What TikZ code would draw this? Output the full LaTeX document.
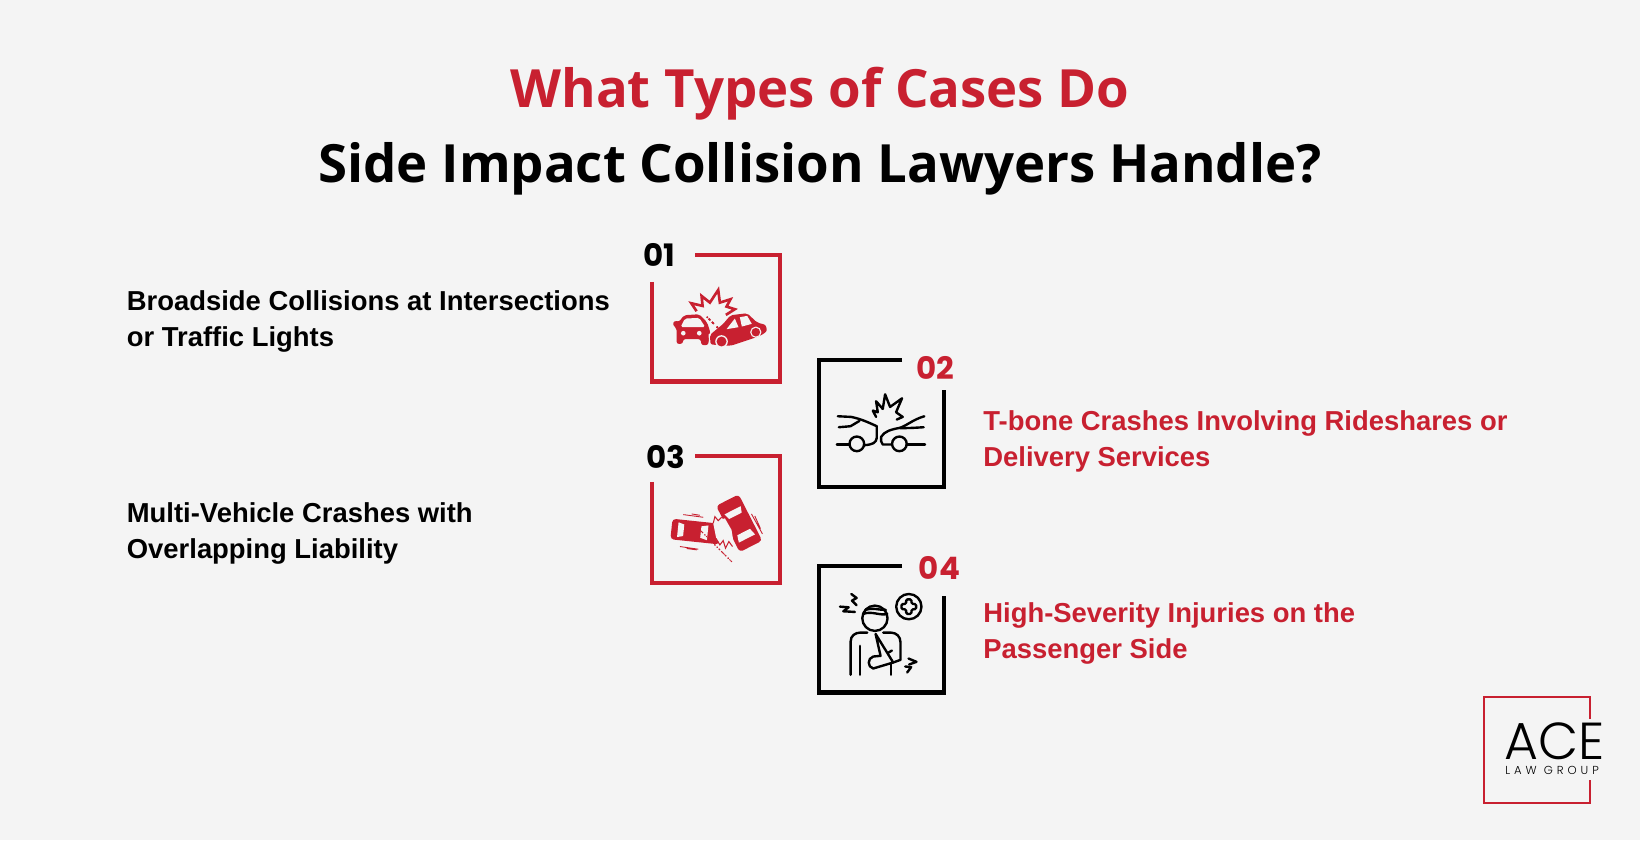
\documentclass[tikz,border=0pt]{standalone}
\usepackage{fontspec}
\setmainfont{Open Sans}
\newfontfamily\bodyfont{Liberation Sans}
\newfontfamily\numfont{Poppins}
\newfontfamily\acefont{Poppins Light}
\newfontfamily\acetrack[LetterSpace=34]{Poppins Light}
\usepackage{xcolor}
\usetikzlibrary{positioning}
\definecolor{aceRed}{RGB}{200,32,48}
\definecolor{pageGray}{RGB}{244,244,244}

\begin{document}
\begin{tikzpicture}[thick, line join=miter]

	% Define styles
	\tikzstyle{heading} = [inner sep=0pt, font=\fontsize{15}{19}\selectfont\bfseries]
	\tikzstyle{itemtext} = [inner sep=0pt, anchor=base west, align=left, font=\fontsize{7.8}{10.4}\selectfont\bodyfont\bfseries]
	\tikzstyle{numlabel} = [inner sep=0pt, anchor=base west, font=\fontsize{8.8}{10}\selectfont\numfont\bfseries]
	\tikzstyle{frame} = [line width=1.34pt]
	\tikzstyle{iconline} = [line width=0.68pt, line cap=round, line join=round]

	% Page
	\fill[pageGray] (0,0) rectangle (16.4,8.4);

	% Title
	\node[heading, anchor=base, text=aceRed] (titleA) at (8.2,7.32) {What Types of Cases Do};
	\node[heading, below=0.75cm of titleA.base, anchor=base] (titleB) {Side Impact Collision Lawyers Handle?};

	% Item texts
	\node[itemtext] (textA) at (1.255,4.93) {Broadside Collisions at Intersections\\or Traffic Lights};
	\node[itemtext, text=aceRed] (textB) at (9.82,3.73) {T-bone Crashes Involving Rideshares or\\Delivery Services};
	\node[itemtext] (textC) at (1.255,2.81) {Multi-Vehicle Crashes with\\Overlapping Liability};
	\node[itemtext, text=aceRed] (textD) at (9.82,1.81) {High-Severity Injuries on the\\Passenger Side};

	% Numbers
	\node[numlabel] (numA) at (6.42,5.73) {01};
	\node[numlabel, text=aceRed] (numB) at (9.15,4.60) {02};
	\node[numlabel] (numC) at (6.45,3.71) {03};
	\node[numlabel, text=aceRed] (numD) at (9.175,2.60) {04};

	% Frames
	\draw[frame, aceRed] (6.52,5.58) -- (6.52,4.585) -- (7.80,4.585) -- (7.80,5.85) -- (6.95,5.85);
	\draw[frame, aceRed] (6.52,3.58) -- (6.52,2.57) -- (7.80,2.57) -- (7.80,3.84) -- (6.95,3.84);
	\draw[frame] (9.02,4.80) -- (8.19,4.80) -- (8.19,3.53) -- (9.44,3.53) -- (9.44,4.50);
	\draw[frame] (9.02,2.74) -- (8.19,2.74) -- (8.19,1.475) -- (9.44,1.475) -- (9.44,2.44);

	% Icon 01: two cars hitting
	\begin{scope}[shift={(6.6,5.7)}, x=0.00333cm, y=-0.00333cm]
		\draw[aceRed, line width=0.75pt, line join=miter] (110,124) -- (94,100) -- (128,108) -- (125,78) -- (150,98) -- (175,60) -- (180,98) -- (212,88) -- (200,110) -- (225,118) -- (198,135);
		\fill[aceRed, rounded corners=0.6pt] (50,222) -- (50,175) -- (38,165) -- (42,153) -- (58,155) -- (72,136) -- (118,133) -- (142,158) -- (152,190) -- (144,226) -- (125,226) -- (122,208) -- (70,208) -- (68,222) -- cycle;
		\fill[pageGray, rounded corners=0.5pt] (62,172) -- (75,146) -- (118,144) -- (136,172) -- cycle;
		\fill[pageGray] (70,190) circle (7) (118,190) circle (7);
		\fill[pageGray] (148,228) -- (146,194) -- (186,160) -- (192,200) -- cycle;
		\fill[aceRed, rounded corners=0.6pt] (152,224) -- (150,195) -- (190,162) -- (212,136) -- (262,130) -- (292,158) -- (318,165) -- (322,184) -- (302,198) -- (212,228) -- cycle;
		\fill[pageGray] (200,178) -- (225,146) -- (236,172) -- cycle (240,142) -- (262,138) -- (276,162) -- (246,170) -- cycle;
		\fill[pageGray] (185,215) circle (19) (288,187) circle (17);
		\fill[aceRed] (185,215) circle (15) (288,187) circle (13);
		\foreach \dotx/\doty in {150,142, 160,148, 158,160, 172,158, 178,148, 172,172}
			\fill[aceRed] (\dotx,\doty) circle (3.5);
	\end{scope}

	% Icon 02: outlined cars
	\begin{scope}[shift={(6.2,6.1)}, x=0.00333cm, y=-0.00333cm]
		\draw[iconline] (655,560) -- (695,562) .. controls (725,568) and (750,580) .. (772,590) -- (772,625) .. controls (770,640) and (760,645) .. (735,647);
		\draw[iconline] (658,593) -- (693,590) -- (720,574);
		\draw[iconline] (652,645) -- (690,645);
		\draw[iconline] (712,643) circle (22);
		\draw[iconline] (915,560) .. controls (880,570) and (860,590) .. (840,595) .. controls (815,600) and (795,605) .. (785,622) -- (785,635) -- (790,645) -- (817,645);
		\draw[iconline] (842,596) -- (880,595) -- (913,593);
		\draw[iconline] (862,645) -- (917,645);
		\draw[iconline] (840,643) circle (22);
		\draw[iconline] (770,562) -- (760,543) -- (775,548) -- (770,515) -- (790,538) -- (797,494) -- (812,532) -- (848,506) -- (830,548) -- (850,562) -- (832,570);
	\end{scope}

	% Icon 03: two cars from above
	\begin{scope}[shift={(6.6,3.5)}, x=0.00333cm, y=-0.00333cm]
		\foreach \carx/\cary/\carrot/\carlen/\carwid/\carwin in {108/125/-6/148/62/0, 238/100/-63/156/76/14}{
			\begin{scope}[shift={(\carx,\cary)}, rotate=\carrot]
				\fill[aceRed, rounded corners=1pt] (-\carlen/2,-\carwid/2) rectangle (\carlen/2,\carwid/2);
				\begin{scope}[shift={(\carwin,0)}]
					\fill[pageGray] (-\carlen*0.37,-\carwid*0.36) -- (-\carlen*0.25,-\carwid*0.28) -- (-\carlen*0.25,\carwid*0.28) -- (-\carlen*0.37,\carwid*0.36) -- cycle;
					\fill[pageGray] (\carlen*0.24,-\carwid*0.36) -- (\carlen*0.10,-\carwid*0.28) -- (\carlen*0.10,\carwid*0.28) -- (\carlen*0.24,\carwid*0.36) -- cycle;
				\end{scope}
			\end{scope}
		}
		\fill[pageGray] (160,100) -- (195,85) -- (215,120) -- (220,150) -- (200,175) -- (170,150) -- cycle;
		\draw[aceRed, line width=0.3pt] (168,145) -- (180,165) -- (190,152) -- (197,175) -- (207,155) -- (218,170);
		\draw[aceRed, line width=0.3pt] (160,100) -- (165,80) -- (175,92) -- (185,82);
		\foreach \dotx/\doty in {172,110, 185,100, 195,112, 180,125, 205,122, 190,135, 210,140, 178,145, 198,150, 165,125, 215,155, 205,105, 188,115, 172,135, 198,128, 186,150, 205,165, 192,165, 178,100, 213,128}
			\fill[aceRed] (\dotx,\doty) circle (2.2);
		\draw[aceRed, line width=0.25pt] (70,74) -- (130,82) (95,72) -- (120,76) (60,170) -- (115,178) (80,176) -- (110,180) (275,72) -- (308,132) (285,78) -- (302,116);
	\end{scope}

	% Icon 04: injured person
	\begin{scope}[shift={(8.3,2.5)}, x=0.00333cm, y=-0.00333cm]
		\draw[iconline] (135,85) circle (38);
		\draw[iconline] (100,72) .. controls (125,62) and (150,78) .. (172,72);
		\draw[iconline] (106,60) .. controls (125,52) and (145,60) .. (168,60);
		\draw[iconline] (62,255) -- (62,155) .. controls (62,138) and (75,128) .. (92,128) -- (112,128);
		\draw[iconline] (160,128) -- (182,128) .. controls (200,128) and (212,140) .. (212,158) -- (212,210) -- (190,218);
		\draw[iconline] (90,168) -- (90,255);
		\draw[iconline] (137,132) -- (190,218) -- (130,236) .. controls (112,232) and (112,205) .. (130,200) -- (152,198) -- cycle;
		\draw[iconline] (176,188) -- (186,182);
		\draw[iconline] (183,224) -- (183,255);
		\draw[iconline] (64,12) -- (80,24) -- (66,32) -- (80,46);
		\draw[iconline] (30,50) -- (56,52) -- (40,64) -- (75,66);
		\draw[iconline] (236,206) -- (260,216) -- (238,224);
		\draw[iconline] (226,230) -- (244,232) -- (232,248);
		\draw[iconline] (237,50) circle (38);
		\draw[iconline, rounded corners=0.4pt] (229,28) -- (245,28) -- (245,42) -- (259,42) -- (259,58) -- (245,58) -- (245,72) -- (229,72) -- (229,58) -- (215,58) -- (215,42) -- (229,42) -- cycle;
	\end{scope}

	% Logo
	\begin{scope}[shift={(14.6,1.6)}, x=0.00333cm, y=-0.00333cm]
		\draw[aceRed, line width=0.5pt] (390,118) -- (390,50) -- (72,50) -- (72,370) -- (390,370) -- (390,300);
		\node[inner sep=0pt, anchor=base west, font=\fontsize{14.8}{16}\selectfont\acefont] (logoA) at (130,240) {ACE};
		\node[inner sep=0pt, anchor=base west, font=\fontsize{3.3}{4}\selectfont\acetrack] (logoB) at (132,285) {LAW GROUP};
	\end{scope}

\end{tikzpicture}
\end{document}
